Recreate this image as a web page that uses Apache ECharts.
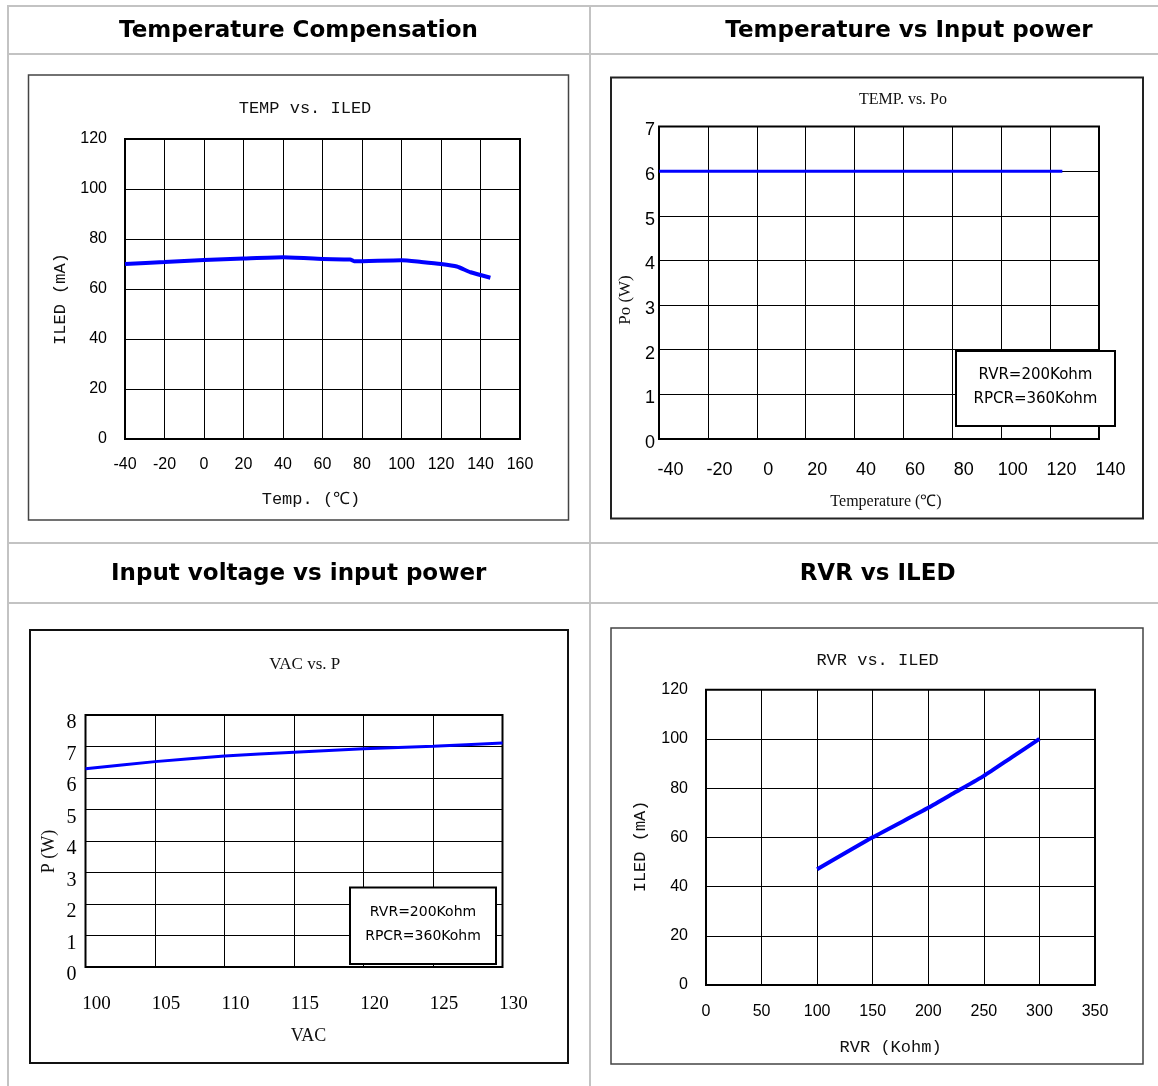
<!DOCTYPE html>
<html>
<head>
<meta charset="utf-8">
<script src="https://cdn.jsdelivr.net/npm/echarts@6/dist/echarts.min.js"></script>
<style>
html,body{margin:0;padding:0;background:#fff;}
#c{width:1158px;height:1086px;}
</style>
</head>
<body>
<div id="c"></div>
<script>
// ---- Data ----
// Chart 1: TEMP vs. ILED
var temp1 = [-40, -20, 0, 20, 40, 60, 74, 76, 100, 110, 120, 128, 135, 145];
var iled1 = [70, 70.8, 71.6, 72.2, 72.7, 72.0, 71.8, 71.1, 71.5, 70.8, 70, 69, 66.7, 64.5];
var temp1Ticks = [-40, -20, 0, 20, 40, 60, 80, 100, 120, 140, 160];
// Chart 2: TEMP. vs. Po
var temp2 = [-40, -20, 0, 20, 40, 60, 80, 100, 120, 125];
var po2 = [6, 6, 6, 6, 6, 6, 6, 6, 6, 6];
// Chart 3: VAC vs. P
var vac3 = [100, 105, 110, 115, 120, 125, 130];
var p3 = [6.29, 6.52, 6.70, 6.82, 6.93, 7.01, 7.11];
// Chart 4: RVR vs. ILED
var rvr4 = [100, 150, 200, 225, 250, 275, 300];
var iled4 = [47, 60, 72, 78.5, 85, 92.5, 100];

var headers = ['Temperature Compensation', 'Temperature vs Input power', 'Input voltage vs input power', 'RVR vs ILED'];
var titles = ['TEMP vs. ILED', 'TEMP. vs. Po', 'VAC vs. P', 'RVR vs. ILED'];
var xNames = ['Temp. (\u2103)', 'Temperature (\u2103)', 'VAC', 'RVR (Kohm)'];
var yNames = ['ILED (mA)', 'Po (W)', 'P (W)', 'ILED (mA)'];
var noteLines = ['RVR=200Kohm', 'RPCR=360Kohm'];

function zip(a, b) { return a.map(function (v, i) { return [v, b[i]]; }); }

var SANS = '"Liberation Sans", Arial, sans-serif';
var SERIF = '"Liberation Serif", "Times New Roman", serif';
var MONO = '"Liberation Mono", "Courier New", monospace';
var HEAD = '"DejaVu Sans", sans-serif';

function xAxis(idx, min, max, interval, font, size, margin, padLeft) {
  return {
    type: 'value', gridIndex: idx, min: min, max: max, interval: interval,
    axisLine: { show: false }, axisTick: { show: false },
    splitLine: { show: true, lineStyle: { color: '#000', width: 1 } },
    axisLabel: { color: '#000', fontFamily: font, fontSize: size, margin: margin,
      padding: [0, 0, 0, padLeft || 0], showMinLabel: true, showMaxLabel: true }
  };
}
function yAxis(idx, min, max, interval, font, size, margin, shiftDown) {
  var lbl = { color: '#000', fontFamily: font, fontSize: size, margin: margin,
    showMinLabel: true, showMaxLabel: true };
  if (shiftDown) { lbl.verticalAlign = 'top'; lbl.lineHeight = shiftDown * 2; }
  return {
    type: 'value', gridIndex: idx, min: min, max: max, interval: interval,
    axisLine: { show: false }, axisTick: { show: false },
    splitLine: { show: true, lineStyle: { color: '#000', width: 1 } },
    axisLabel: lbl
  };
}
function gridBox(l, t, w, h) {
  return { left: l, top: t, width: w, height: h, show: true, borderColor: '#000', borderWidth: 2,
    backgroundColor: 'transparent', containLabel: false, outerBoundsMode: 'none' };
}

var G = [];
function line(x1, y1, x2, y2, color, w) {
  G.push({ type: 'line', silent: true, z: 1, shape: { x1: x1, y1: y1, x2: x2, y2: y2 },
    style: { stroke: color, lineWidth: w } });
}
function rect(x, y, w, h, stroke, lw, fill, z) {
  G.push({ type: 'rect', silent: true, z: z || 1, shape: { x: x, y: y, width: w, height: h },
    style: { stroke: stroke, lineWidth: lw, fill: fill || 'transparent' } });
}
function text(t, x, y, font, color, rot, z) {
  G.push({ type: 'text', silent: true, z: z || 5, x: x, y: y, rotation: rot || 0,
    style: { text: t, font: font, fill: color || '#000', textAlign: 'center', textVerticalAlign: 'middle' } });
}

// table lines
var TC = '#c3c3c3';
line(7, 6, 1158, 6, TC, 2);
line(8, 5, 8, 1086, TC, 2);
line(590, 5, 590, 1086, TC, 2);
line(7, 54, 1158, 54, TC, 2);
line(7, 543, 1158, 543, TC, 2);
line(7, 603, 1158, 603, TC, 2);

// headers
var HF = 'bold 23px ' + HEAD;
text(headers[0], 298.5, 31, HF, '#000');
text(headers[1], 909, 31, HF, '#000');
text(headers[2], 298.7, 574, HF, '#000');
text(headers[3], 877.6, 574, HF, '#000');

// chart frames
rect(28.5, 75, 540, 445, '#444', 1.5);
rect(611, 77.5, 532, 441, '#222', 2);
rect(30, 630, 538, 433, '#111', 2);
rect(611, 628, 532, 436, '#444', 1.5);

// chart titles
text(titles[0], 305, 108.5, '17px ' + MONO, '#111');
text(titles[1], 903, 100, '16px ' + SERIF, '#111');
text(titles[2], 304.7, 664.6, '17px ' + SERIF, '#111');
text(titles[3], 877.6, 660, '17px ' + MONO, '#111');

// axis names
text(xNames[0], 311, 499, '17px ' + MONO, '#111');
text(yNames[0], 60, 299, '17px ' + MONO, '#111', Math.PI / 2);
text(xNames[1], 886, 502, '16px ' + SERIF, '#111');
text(yNames[1], 626, 300, '17px ' + SERIF, '#111', Math.PI / 2);
text(xNames[2], 308.5, 1036, '18px ' + SERIF, '#111');
text(yNames[2], 49, 851.6, '18px ' + SERIF, '#111', Math.PI / 2);
text(xNames[3], 890.6, 1047.3, '17px ' + MONO, '#111');
text(yNames[3], 640.7, 846.4, '17px ' + MONO, '#111', Math.PI / 2);

// note boxes
rect(956, 351, 159, 75, '#000', 2, '#fff', 50);
text(noteLines[0], 1035.5, 375.5, '15px ' + HEAD, '#000', 0, 51);
text(noteLines[1], 1035.5, 399, '15px ' + HEAD, '#000', 0, 51);
rect(350, 887.5, 146, 76.5, '#000', 2, '#fff', 50);
text(noteLines[0], 423, 912.6, '14px ' + HEAD, '#000', 0, 51);
text(noteLines[1], 423, 936, '14px ' + HEAD, '#000', 0, 51);

var option = {
  animation: false,
  backgroundColor: '#fff',
  grid: [
    gridBox(125, 139, 395, 300),
    gridBox(659, 126.5, 440, 312.5),
    gridBox(85.5, 715, 417, 252),
    gridBox(706, 689.7, 389, 295.3)
  ],
  xAxis: [
    xAxis(0, temp1Ticks[0], temp1Ticks[temp1Ticks.length - 1], 20, SANS, 16, 18, 0),
    xAxis(1, -40, 140, 20, SANS, 18, 22, 23),
    xAxis(2, 100, 130, 5, SERIF, 19, 28, 22),
    xAxis(3, 0, 350, 50, SANS, 16, 19, 0)
  ],
  yAxis: [
    yAxis(0, 0, 120, 20, SANS, 16, 18, 0),
    yAxis(1, 0, 7, 1, SANS, 18, 4, 4),
    yAxis(2, 0, 8, 1, SERIF, 20, 9, 8),
    yAxis(3, 0, 120, 20, SANS, 16, 18, 0)
  ],
  series: [
    { type: 'line', xAxisIndex: 0, yAxisIndex: 0, data: zip(temp1, iled1), showSymbol: false, smooth: 0.2,
      lineStyle: { color: '#0000ff', width: 4 }, z: 10 },
    { type: 'line', xAxisIndex: 1, yAxisIndex: 1, data: zip(temp2, po2), showSymbol: false,
      lineStyle: { color: '#0000ff', width: 3 }, z: 10 },
    { type: 'line', xAxisIndex: 2, yAxisIndex: 2, data: zip(vac3, p3), showSymbol: false, smooth: 0.2,
      lineStyle: { color: '#0000ff', width: 3 }, z: 10 },
    { type: 'line', xAxisIndex: 3, yAxisIndex: 3, data: zip(rvr4, iled4), showSymbol: false, smooth: 0.2,
      lineStyle: { color: '#0000ff', width: 4 }, z: 10 }
  ],
  graphic: G
};

var chart = echarts.init(document.getElementById('c'), null, { renderer: 'canvas' });
chart.setOption(option);
</script>
</body>
</html>
